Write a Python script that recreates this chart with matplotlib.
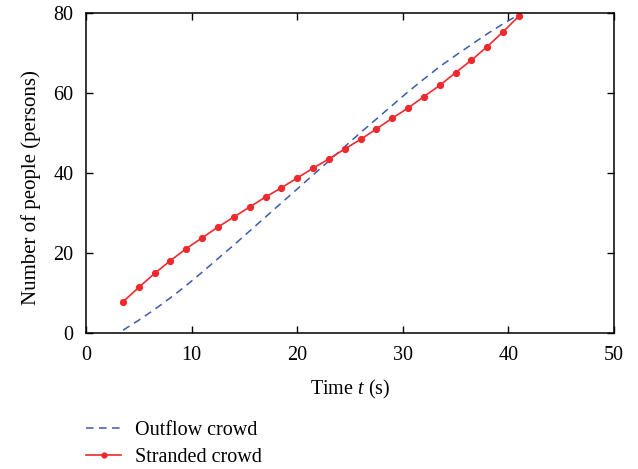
import matplotlib
matplotlib.use("Agg")
import matplotlib.pyplot as plt
from matplotlib.lines import Line2D

plt.rcParams['font.family'] = ['Liberation Serif', 'DejaVu Serif']
plt.rcParams['mathtext.fontset'] = 'custom'
plt.rcParams['mathtext.it'] = 'Liberation Serif:italic'
plt.rcParams['mathtext.rm'] = 'Liberation Serif'

# Data
t_stranded = [3.5, 5, 6.5, 8, 9.5, 11, 12.5, 14, 15.5, 17, 18.5, 20, 21.5, 23,
              24.5, 26, 27.5, 29, 30.5, 32, 33.5, 35, 36.5, 38, 39.5, 41]
stranded = [7.8, 11.4, 14.9, 18.1, 21.1, 23.8, 26.5, 29.0, 31.5, 34.0, 36.3, 38.75,
            41.2, 43.5, 46.0, 48.4, 51.0, 53.7, 56.25, 59.1, 61.9, 65.1, 68.2,
            71.6, 75.3, 79.25]
t_outflow = [3.5, 5, 6.5, 8, 9.5, 11, 12.5, 14, 15.5, 17, 18.5, 20, 21.5, 23,
             24.5, 26, 27.5, 29, 30.5, 32, 33.5, 35, 36.5, 38, 39.5, 40.8]
outflow = [0.7, 3.2, 5.9, 8.8, 11.9, 15.2, 18.6, 22.0, 25.5, 29.0, 32.5, 36.0,
           39.5, 43.0, 46.6, 50.1, 53.5, 56.9, 60.3, 63.5, 66.6, 69.4, 72.1,
           74.8, 77.3, 79.3]

xticks = [0, 10, 20, 30, 40, 50]
yticks = [0, 20, 40, 60, 80]

FS = 14.5

fig = plt.figure(figsize=(6.38, 4.69), dpi=100)
ax = fig.add_axes([86/638, 1-333/469, (614-86)/638, 320/469])

blue = '#3a5bb0'
red = '#ee2a2e'
ax.plot(t_outflow, outflow, color=blue, lw=1.1, dashes=(5, 3.5))
ax.plot(t_stranded, stranded, color=red, lw=1.2, marker='o', ms=4.2)

ax.set_xlim(0, 50)
ax.set_ylim(0, 80)
ax.set_xticks(xticks)
ax.set_yticks(yticks)
ax.tick_params(direction='in', top=True, right=True, labelsize=FS, length=5,
               width=1, pad=9)
for s in ax.spines.values():
    s.set_linewidth(1.1)
ax.set_xlabel('Time $t$ (s)', fontsize=FS, labelpad=10)
ax.set_ylabel('Number of people (persons)', fontsize=15)
ax.yaxis.set_label_coords(-0.085, 0.456)

handles = [Line2D([], [], color=blue, lw=1.1, dashes=(5, 3.5)),
           Line2D([], [], color=red, lw=1.2, marker='o', ms=3.5)]
fig.legend(handles, ['Outflow crowd', 'Stranded crowd'], loc='upper left',
           bbox_to_anchor=(78/638, 1-413/469), frameon=False, fontsize=FS,
           handlelength=1.75, handletextpad=0.7, labelspacing=0.38,
           borderaxespad=0)

fig.savefig('out.png', dpi=100)
